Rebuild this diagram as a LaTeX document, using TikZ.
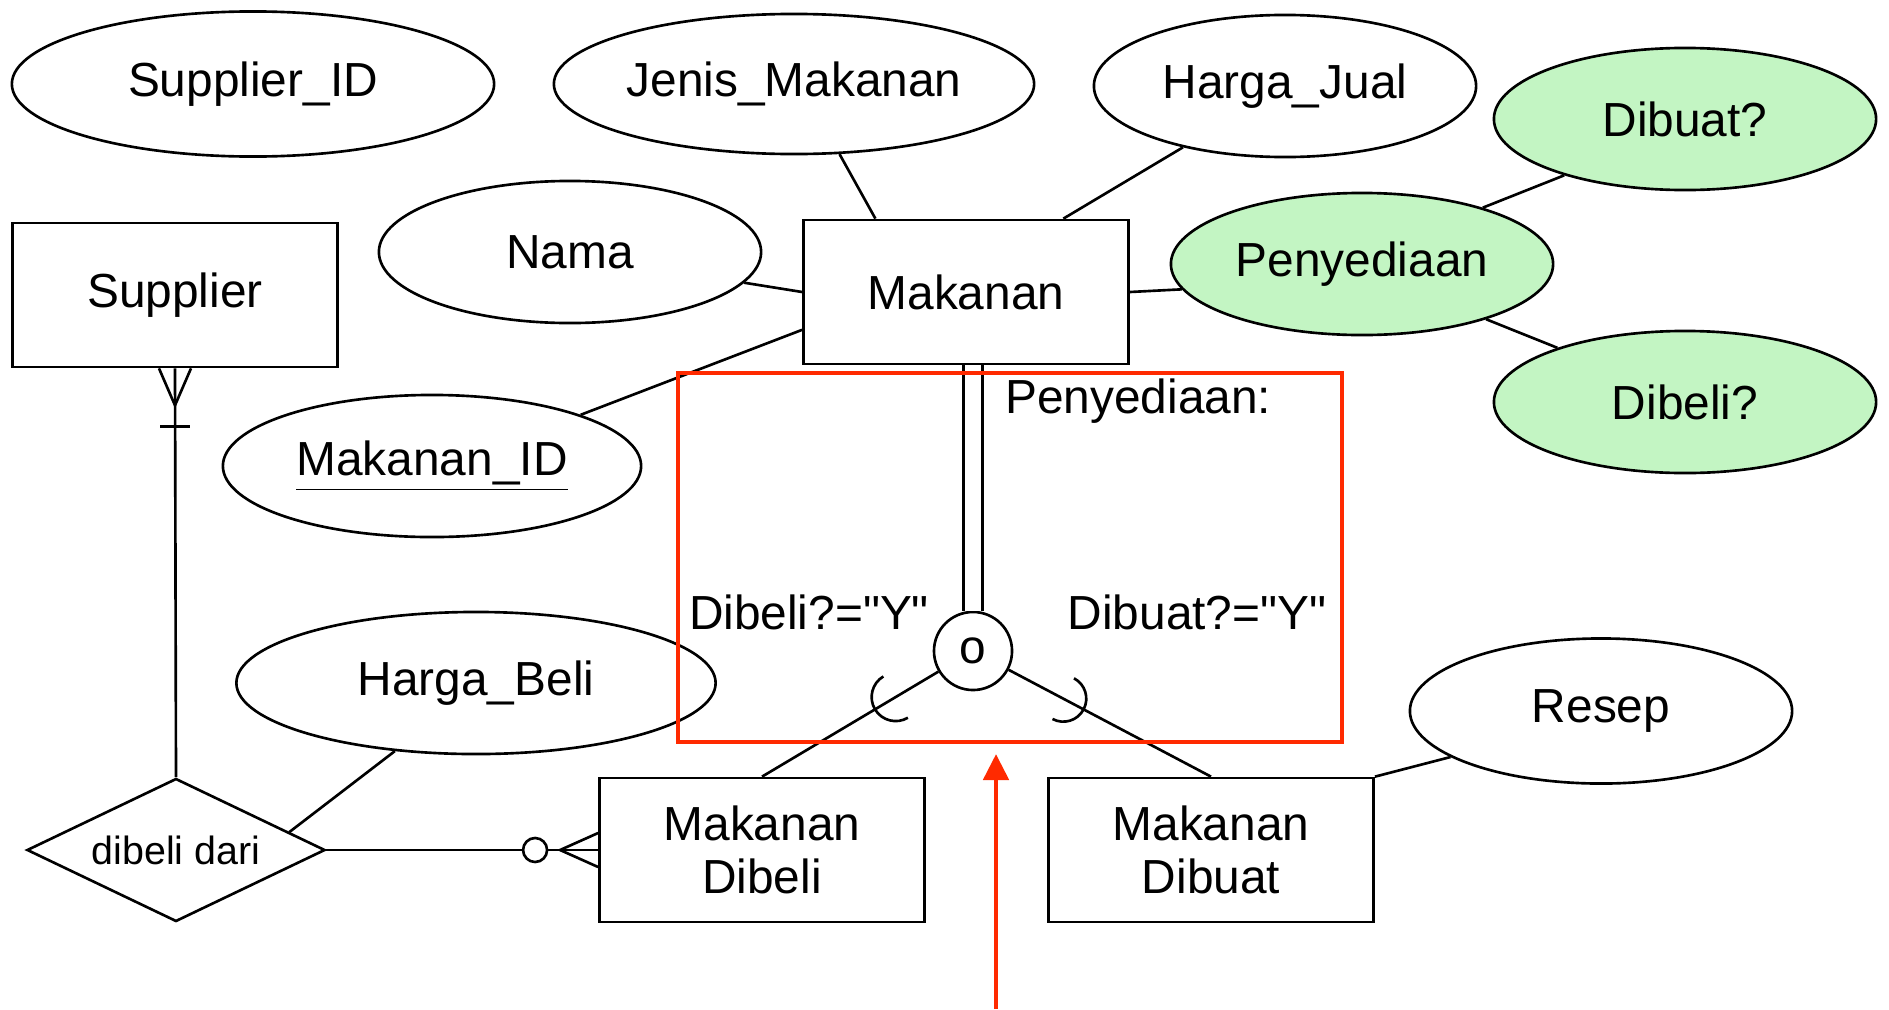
\documentclass[tikz,border=0pt]{standalone}
\usepackage{fontspec}
\setmainfont{Liberation Sans}
\usetikzlibrary{shapes.geometric,arrows.meta,calc}
\definecolor{attrgreen}{HTML}{C3F5C3}
\definecolor{markred}{HTML}{FF2A00}
\newcommand{\sq}{\XeTeXglyph\XeTeXglyphindex"quotedbl" }

\begin{document}
\begin{tikzpicture}[x=0.01cm, y=-0.01cm, line width=0.75pt,
    attr/.style={draw, ellipse, inner sep=0pt, minimum width=3.82cm, minimum height=1.42cm,
      font=\fontsize{13.6}{15}\selectfont},
    derived/.style={fill=attrgreen},
    entity/.style={draw, rectangle, inner sep=0pt, minimum width=3.25cm, minimum height=1.44cm,
      align=center, font=\fontsize{13.6}{15.2}\selectfont},
    relship/.style={draw, diamond, aspect=2.08, inner sep=0pt, minimum width=2.98cm, minimum height=1.43cm,
      font=\fontsize{11.2}{13}\selectfont},
    label/.style={inner sep=0pt, font=\fontsize{13.6}{15}\selectfont}]
    \useasboundingbox (0,0) rectangle (1889,1009);

    % Attributes on the top row
    \node[attr, minimum width=4.82cm, minimum height=1.45cm] (supid) at (253,84) {Supplier\_ID};
    \node[attr, minimum width=4.80cm, minimum height=1.40cm] (jenis) at (794,84) {Jenis\_Makanan};
    \node[attr] (hjual) at (1285,86) {Harga\_Jual};
    \node[attr, derived] (dibuat) at (1685,119) {Dibuat?};

    % Entity Makanan and its attributes
    \node[attr] (nama) at (570,252) {Nama};
    \node[entity] (makanan) at (966,292) {Makanan};
    \node[attr, derived] (peny) at (1362,264) {Penyediaan};
    \node[attr, derived] (dibeli) at (1685,402) {Dibeli?};
    \node[attr, minimum width=4.18cm] (makid) at (432,466) {\underline{Makanan\_ID}};

    % Entity Supplier and the relationship
    \node[entity] (supplier) at (175,295) {Supplier};
    \node[attr, minimum width=4.79cm] (hbeli) at (476,683) {Harga\_Beli};
    \node[relship] (belidari) at (176,850) {dibeli dari};

    % Subclasses and the disjoint circle
    \node[entity] (mdibeli) at (762,850) {Makanan\\Dibeli};
    \node[entity] (mdibuat) at (1211,850) {Makanan\\Dibuat};
    \node[attr, minimum height=1.45cm] (resep) at (1601,711) {Resep};
    \node[draw, circle, inner sep=0pt, minimum size=0.78cm,
      font=\fontsize{13.6}{15}\selectfont] (circ) at (973,651) {o};

    % Labels of the specialisation
    \node[label, anchor=west] (lblpeny) at (1004,401) {Penyediaan:};
    \node[label] (lbldibeli) at (809,612) {Dibeli?=\sq Y\sq};
    \node[label] (lbldibuat) at (1197,612) {Dibuat?=\sq Y\sq};

    % Attribute lines
    \draw (jenis.-57) -- (makanan.141);
    \draw (hjual.-149) -- (makanan.37);
    \draw (nama.-10) -- (makanan.west);
    \draw (makid.19) -- (makanan.193);
    \draw (makanan.east) -- (peny.188);
    \draw (peny.25) -- (dibuat.205);
    \draw (peny.-24) -- (dibeli.157);
    \draw (hbeli.220) -- (belidari.9.5);
    \draw (mdibuat.north east) -- (resep.197);

    % Supplier to dibeli dari, one or more
    \draw (supplier.south) -- (belidari.north);
    \draw ($(supplier.south)+(-16,0)$) -- ($(supplier.south)+(0,37)$) -- ($(supplier.south)+(16,0)$);
    \draw ($(supplier.south)+(-15,58)$) -- ($(supplier.south)+(15,58)$);

    % dibeli dari to Makanan Dibeli, zero or more
    \draw (belidari.east) -- (mdibeli.west);
    \draw ($(mdibeli.west)+(0,-17)$) -- ($(mdibeli.west)+(-38,0)$) -- ($(mdibeli.west)+(0,17)$);
    \draw[fill=white] ($(mdibeli.west)+(-63,0)$) circle[radius=0.12cm];

    % Makanan to the circle, total
    \draw[double, double distance=0.16cm] (circ.north |- makanan.south) -- (circ.north);

    % Circle to the subclasses, with subset marks
    \draw (circ) -- (mdibeli.north);
    \draw (circ) -- (mdibuat.north);
    \coordinate (subl) at ($(circ)!0.90cm!(mdibeli.north)$);
    \coordinate (subr) at ($(circ)!1.02cm!(mdibuat.north)$);
    \draw ($(subl)!0.24cm!90:(mdibeli.north)$) to[bend left=45] ($(subl)!0.24cm!(mdibeli.north)$)
      to[bend left=45] ($(subl)!0.24cm!-90:(mdibeli.north)$);
    \draw ($(subr)!0.23cm!90:(mdibuat.north)$) to[bend left=45] ($(subr)!0.23cm!(mdibuat.north)$)
      to[bend left=45] ($(subr)!0.23cm!-90:(mdibuat.north)$);

    % Red box and arrow
    \draw[markred, line width=1.15pt] (678,373) rectangle (1342,742);
    \coordinate (arrtail) at (996,1009);
    \coordinate (arrtip) at (996,754);
    \draw[markred, line width=1.4pt, -{Triangle[width=0.25cm, length=0.26cm]}] (arrtail) -- (arrtip);
\end{tikzpicture}
\end{document}
